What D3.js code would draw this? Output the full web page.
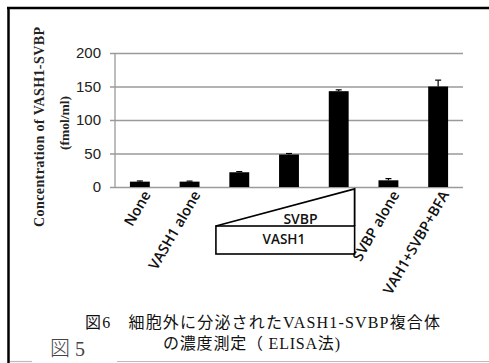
<!DOCTYPE html>
<html>
<head>
<meta charset="utf-8">
<script src="https://cdn.jsdelivr.net/npm/d3@7"></script>
<style>
  html, body { margin: 0; padding: 0; background: #fff; }
  svg { display: block; }
</style>
</head>
<body>
<svg id="chart" width="489" height="363"></svg>
<script>
// ELISA measurement of secreted VASH1-SVBP complex
const conditions = ["None", "VASH1 alone", "SVBP low", "SVBP mid", "SVBP high", "SVBP alone", "VAH1+SVBP+BFA"];
const tickLabels = ["None", "VASH1 alone", "", "", "", "SVBP alone", "VAH1+SVBP+BFA"];
const concentration = [8, 8, 22, 48.5, 143, 10, 150];   // fmol/ml
const errors = [1, 0.8, 1, 1.5, 2, 2.5, 9.5];
const yTicks = [0, 50, 100, 150, 200];

const W = 489, H = 363;
const margin = { top: 53, right: 26, bottom: 176, left: 115 };
const svg = d3.select("#chart");

// outer frame: heavy top/left rules, light bottom rule
svg.append("line").attr("x1", 7).attr("x2", W).attr("y1", 8).attr("y2", 8)
  .attr("stroke", "#000").attr("stroke-width", 2.5);
svg.append("line").attr("x1", 8.5).attr("x2", 8.5).attr("y1", 7).attr("y2", H)
  .attr("stroke", "#000").attr("stroke-width", 2.5);
svg.append("line").attr("x1", 10).attr("x2", 32).attr("y1", 361.5).attr("y2", 361.5)
  .attr("stroke", "#bbb").attr("stroke-width", 1.2);
svg.append("line").attr("x1", 117).attr("x2", W).attr("y1", 361.5).attr("y2", 361.5)
  .attr("stroke", "#bbb").attr("stroke-width", 1.2);

const x = d3.scaleBand()
  .domain(conditions)
  .range([margin.left, W - margin.right])
  .paddingInner(0.6)
  .paddingOuter(0.3);

const y = d3.scaleLinear()
  .domain([0, 200])
  .range([H - margin.bottom, margin.top]);

// gridlines + y tick labels
const yAxis = d3.axisLeft(y)
  .tickValues(yTicks)
  .tickSize(-(W - margin.right - margin.left) - 5)
  .tickPadding(9)
  .tickFormat(d3.format("d"));

const gy = svg.append("g")
  .attr("transform", `translate(${margin.left - 5},0)`)
  .call(yAxis);
gy.select(".domain").remove();
gy.selectAll(".tick line").attr("stroke", "#9a9a9a").attr("stroke-width", 1.3);
gy.selectAll(".tick text")
  .attr("font-family", "'Liberation Sans', Arial, sans-serif")
  .attr("font-size", 15)
  .attr("fill", "#222");

// vertical axis line
svg.append("line")
  .attr("x1", margin.left).attr("x2", margin.left)
  .attr("y1", y(200)).attr("y2", y(0))
  .attr("stroke", "#9a9a9a").attr("stroke-width", 1.3);

// bars
svg.append("g").selectAll("rect")
  .data(conditions)
  .join("rect")
  .attr("x", d => x(d))
  .attr("width", x.bandwidth())
  .attr("y", (d, i) => y(concentration[i]))
  .attr("height", (d, i) => y(0) - y(concentration[i]))
  .attr("fill", "#000");

// error bars (upper)
const eb = svg.append("g").attr("stroke", "#000").attr("stroke-width", 1.2);
conditions.forEach((d, i) => {
  const cx = x(d) + x.bandwidth() / 2;
  const top = y(concentration[i] + errors[i]);
  eb.append("line").attr("x1", cx).attr("x2", cx)
    .attr("y1", y(concentration[i])).attr("y2", top);
  eb.append("line").attr("x1", cx - 3).attr("x2", cx + 3)
    .attr("y1", top).attr("y2", top);
});

// rotated category labels
svg.append("g").selectAll("text")
  .data(conditions)
  .join("text")
  .attr("transform", d => `translate(${x(d) + x.bandwidth() / 2 + 7},${y(0) + 5}) rotate(-60)`)
  .attr("text-anchor", "end")
  .attr("dy", "0.35em")
  .attr("font-family", "'Open Sans', sans-serif")
  .attr("font-weight", 600)
  .attr("font-size", 14.5)
  .attr("fill", "#111")
  .text((d, i) => tickLabels[i]);

// dose diagram under the titration bars
const step = x.step();
const left = x("SVBP low") - step * 0.27;
const right = x("SVBP high") + x.bandwidth() + step * 0.12;
const boxTop = y(0) + 39, boxBottom = y(0) + 67;
svg.append("rect")
  .attr("x", left).attr("y", boxTop)
  .attr("width", right - left).attr("height", boxBottom - boxTop)
  .attr("fill", "none").attr("stroke", "#000").attr("stroke-width", 1.6);
svg.append("path")
  .attr("d", `M${left},${boxTop} L${right},${y(0) + 2} L${right},${boxTop}`)
  .attr("fill", "none").attr("stroke", "#000").attr("stroke-width", 1.8)
  .attr("stroke-linejoin", "miter");
svg.append("text")
  .attr("x", left + (right - left) * 0.61).attr("y", boxTop - 2)
  .attr("text-anchor", "middle")
  .attr("font-family", "'Open Sans', sans-serif").attr("font-weight", 600)
  .attr("font-size", 14).attr("fill", "#111")
  .text("SVBP");
svg.append("text")
  .attr("x", left + (right - left) * 0.49).attr("y", boxTop + 18)
  .attr("text-anchor", "middle")
  .attr("font-family", "'Open Sans', sans-serif").attr("font-weight", 600)
  .attr("font-size", 13.5).attr("fill", "#111")
  .text("VASH1");

// y-axis title
const yTitle = svg.append("g")
  .attr("font-family", "'Liberation Serif', 'Times New Roman', serif")
  .attr("font-weight", 700)
  .attr("fill", "#222");
yTitle.append("text")
  .attr("transform", "translate(44,127) rotate(-90)")
  .attr("text-anchor", "middle")
  .attr("font-size", 14)
  .attr("textLength", 200)
  .attr("lengthAdjust", "spacing")
  .text("Concentration of VASH1-SVBP");
yTitle.append("text")
  .attr("transform", "translate(69,123) rotate(-90)")
  .attr("text-anchor", "middle")
  .attr("font-size", 13.5)
  .text("(fmol/ml)");

// figure caption
const cap = svg.append("g")
  .attr("font-family", "'Liberation Serif', 'Noto Sans CJK JP', serif")
  .attr("fill", "#111");
cap.append("text")
  .attr("x", 85).attr("y", 328)
  .attr("font-size", 16)
  .attr("textLength", 355)
  .attr("lengthAdjust", "spacing")
  .text("図6　細胞外に分泌されたVASH1-SVBP複合体");
cap.append("text")
  .attr("x", 163).attr("y", 349)
  .attr("font-size", 16)
  .attr("textLength", 177)
  .attr("lengthAdjust", "spacing")
  .text("の濃度測定（ ELISA法)");

svg.append("text")
  .attr("x", 50).attr("y", 356)
  .attr("font-family", "'Liberation Serif', 'Noto Sans CJK JP', serif")
  .attr("font-weight", 300)
  .attr("font-size", 20)
  .attr("fill", "#444")
  .text("図 5");
</script>
</body>
</html>
